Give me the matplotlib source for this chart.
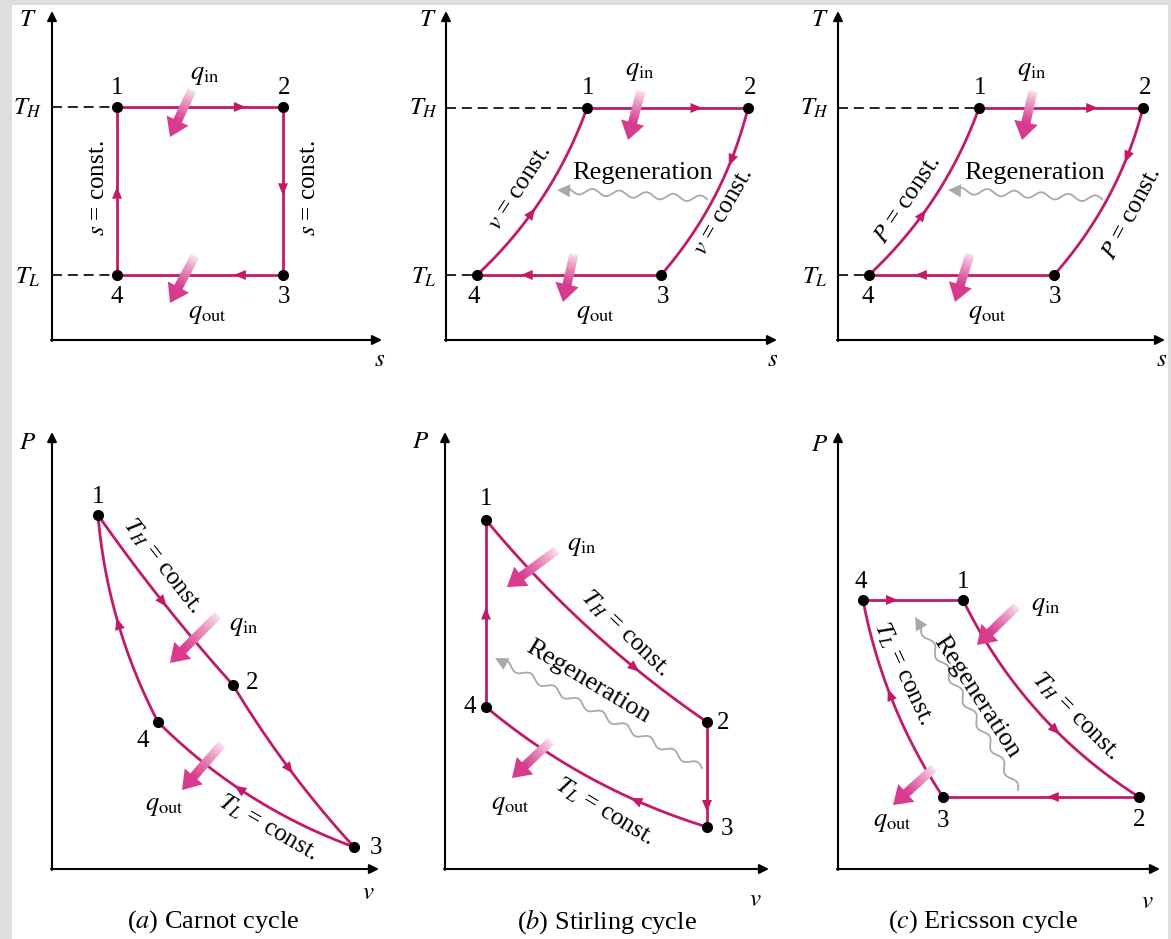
import numpy as np
import matplotlib
matplotlib.use("Agg")
import matplotlib.pyplot as plt
from matplotlib.patches import Polygon, Rectangle

plt.rcParams['font.family'] = ['Liberation Serif', 'DejaVu Serif']
plt.rcParams['mathtext.fontset'] = 'stix'

MAG = '#c21a6a'
HEAT = '#d83a8e'
PALE = '#fbeaf2'
GRAY = '#a9a9a9'

# state points 1,2,3,4 of each cycle (picture coordinates, y down)
carnot_ts = [(117, 107), (283, 107), (283, 275), (117, 275)]
stirling_ts = [(587, 108), (748, 108), (661, 275), (477, 275)]
ericsson_ts = [(979, 108), (1143, 108), (1054, 275), (869, 275)]
carnot_pv = [(98, 515), (233, 685), (354, 847), (158, 722)]
stirling_pv = [(486, 520), (707, 722), (707, 827), (486, 707)]
ericsson_pv = [(963, 600), (1139, 797), (943, 797), (863, 600)]

# curvature of each process 1-2, 2-3, 3-4, 4-1 and where its arrow sits
carnot_ts_bow = [0, 0, 0, 0]
stirling_ts_bow = [0, -0.12, 0, 0.12]
ericsson_ts_bow = [0, -0.12, 0, 0.12]
carnot_pv_bow = [0.03, 0.05, -0.11, -0.10]
stirling_pv_bow = [0.07, 0, -0.10, 0]
ericsson_pv_bow = [0.14, 0, -0.10, 0]

carnot_ts_arr = [0.74, 0.49, 0.26, 0.49]
stirling_ts_arr = [0.68, 0.29, 0.73, 0.41]
ericsson_ts_arr = [0.69, 0.27, 0.72, 0.40]
carnot_pv_arr = [0.5, 0.5, 0.55, 0.49]
stirling_pv_arr = [0.7, 0.8, 0.3, 0.5]
ericsson_pv_arr = [0.6, 0.44, 0.54, 0.29]

fig = plt.figure(figsize=(11.71, 9.39), dpi=100)
ax = fig.add_axes([0, 0, 1, 1])
ax.set_xlim(0, 1171)
ax.set_ylim(939, 0)
ax.axis('off')

# grey frame
for r in [(0, 0, 12, 939), (0, 0, 1171, 5), (1168, 0, 3, 939)]:
    ax.add_patch(Rectangle(r[:2], r[2], r[3], color='#dedede', lw=0, zorder=0))


def bezier(p0, p1, bow, n=80):
    p0 = np.array(p0, float)
    p1 = np.array(p1, float)
    d = p1 - p0
    c = (p0 + p1) / 2 + bow * np.array([-d[1], d[0]])
    t = np.linspace(0, 1, n)[:, None]
    return (1 - t) ** 2 * p0 + 2 * t * (1 - t) * c + t ** 2 * p1


def mid_arrow(path, f, size=12, width=5, color=MAG):
    s = np.concatenate([[0], np.cumsum(np.hypot(*np.diff(path, axis=0).T))])
    tg = f * s[-1]
    x = np.interp(tg, s, path[:, 0])
    y = np.interp(tg, s, path[:, 1])
    xa = np.interp(tg - 3, s, path[:, 0])
    ya = np.interp(tg - 3, s, path[:, 1])
    xb = np.interp(tg + 3, s, path[:, 0])
    yb = np.interp(tg + 3, s, path[:, 1])
    u = np.array([xb - xa, yb - ya])
    u /= np.hypot(*u)
    p = np.array([-u[1], u[0]])
    c = np.array([x, y])
    tip = c + u * size / 2
    base = c - u * size / 2
    ax.add_patch(Polygon([tip, base + p * width, base - p * width],
                         color=color, lw=0, zorder=4))


def cycle(pts, bows, arrs):
    for i in range(4):
        path = bezier(pts[i], pts[(i + 1) % 4], bows[i])
        ax.plot(path[:, 0], path[:, 1], color=MAG, lw=2.0, zorder=3,
                solid_capstyle='round')
        mid_arrow(path, arrs[i])
    ax.plot([p[0] for p in pts], [p[1] for p in pts], 'o', color='k',
            ms=7, zorder=5)


def heat_arrow(tail, head):
    tail = np.array(tail, float)
    head = np.array(head, float)
    d = head - tail
    u = d / np.hypot(*d)
    p = np.array([-u[1], u[0]])
    hl, hw = 18, 12
    base = head - u * hl
    n = 24
    c0 = np.array(matplotlib.colors.to_rgb(PALE))
    c1 = np.array(matplotlib.colors.to_rgb(HEAT))
    for k in range(n):
        a = tail + (base - tail) * k / n
        b = tail + (base - tail) * (k + 1) / n + u * 0.6
        w = ((k + 0.5) / n) ** 0.8
        ax.plot([a[0], b[0]], [a[1], b[1]], color=c0 + (c1 - c0) * w,
                lw=6.5, solid_capstyle='butt', zorder=6)
    ax.add_patch(Polygon([head, base + p * hw, base - p * hw], color=HEAT,
                         lw=0, zorder=6))


def wavy(start, head, amp=3.2, wl=27):
    start = np.array(start, float)
    head = np.array(head, float)
    d = head - start
    L = np.hypot(*d)
    u = d / L
    p = np.array([-u[1], u[0]])
    hl, hw = 13, 6.5
    s = np.linspace(0, L - hl, 300)
    pts = start + s[:, None] * u + (amp * np.sin(2 * np.pi * s / wl))[:, None] * p
    ax.plot(pts[:, 0], pts[:, 1], color=GRAY, lw=1.3, zorder=2)
    base = head - u * hl
    ax.add_patch(Polygon([head, base + p * hw, base - p * hw], color=GRAY,
                         lw=0, zorder=2))


def axes_arrows(x0, y0, ytop, xright):
    kw = dict(arrowstyle='-|>', color='k', lw=1.5, mutation_scale=14,
              shrinkA=0, shrinkB=0)
    ax.annotate('', xy=(x0, ytop), xytext=(x0, y0 + 1), arrowprops=kw)
    ax.annotate('', xy=(xright, y0), xytext=(x0 - 1, y0), arrowprops=kw)


def txt(x, y, s, size=18, rot=0, **kw):
    ax.text(x, y, s, fontsize=size, rotation=rot, ha='center', va='center',
            rotation_mode='anchor', zorder=7, **kw)


def numbers(pos):
    for i, (x, y) in enumerate(pos):
        txt(x, y, str(i + 1))


# ---------------- T-s diagrams ----------------
for (x0, xr, pts) in [(52, 382, carnot_ts), (446, 777, stirling_ts),
                      (838, 1165, ericsson_ts)]:
    axes_arrows(x0, 340, 11, xr)
    ax.plot([x0, pts[0][0]], [pts[0][1], pts[0][1]], 'k--', lw=1.2,
            dashes=(6, 3.5), zorder=1)
    ax.plot([x0, pts[3][0]], [pts[3][1], pts[3][1]], 'k--', lw=1.2,
            dashes=(6, 3.5), zorder=1)

cycle(carnot_ts, carnot_ts_bow, carnot_ts_arr)
cycle(stirling_ts, stirling_ts_bow, stirling_ts_arr)
cycle(ericsson_ts, ericsson_ts_bow, ericsson_ts_arr)

# Carnot T-s
txt(28, 20, '$T$', 18)
txt(28, 108, '$T_H$', 18)
txt(28, 277, '$T_L$', 18)
numbers([(117, 88), (284, 88), (284, 297), (117, 297)])
txt(205, 76, r'$q_{\mathrm{in}}$', 19)
txt(207, 315, r'$q_{\mathrm{out}}$', 19)
txt(98, 188, '$s$ = const.', 18, 90)
txt(309, 188, '$s$ = const.', 18, 90)
txt(380, 360, '$s$', 18)
heat_arrow((192, 90), (170, 137))
heat_arrow((195, 256), (170, 303))

# Stirling T-s
txt(428, 20, '$T$', 18)
txt(424, 108, '$T_H$', 18)
txt(424, 277, '$T_L$', 18)
numbers([(588, 88), (750, 88), (663, 297), (474, 297)])
txt(640, 72, r'$q_{\mathrm{in}}$', 19)
txt(595, 315, r'$q_{\mathrm{out}}$', 19)
txt(520, 188, '$v$ = const.', 18, 57)
txt(723, 212, '$v$ = const.', 18, 60)
txt(643, 173, 'Regeneration', 19)
txt(773, 360, '$s$', 18)
heat_arrow((641, 91), (628, 140))
heat_arrow((574, 254), (563, 302))
wavy((707, 199), (557, 190))

# Ericsson T-s
txt(820, 20, '$T$', 18)
txt(815, 108, '$T_H$', 18)
txt(815, 277, '$T_L$', 18)
numbers([(980, 88), (1145, 88), (1055, 297), (868, 297)])
txt(1032, 72, r'$q_{\mathrm{in}}$', 19)
txt(987, 315, r'$q_{\mathrm{out}}$', 19)
txt(908, 200, '$P$ = const.', 18, 56)
txt(1132, 214, '$P$ = const.', 18, 62)
txt(1035, 173, 'Regeneration', 19)
txt(1162, 360, '$s$', 18)
heat_arrow((1033, 91), (1022, 140))
heat_arrow((970, 254), (955, 302))
wavy((1102, 199), (948, 190))

# ---------------- P-v diagrams ----------------
for (x0, xr) in [(52, 379), (445, 769), (838, 1160)]:
    axes_arrows(x0, 869, 432, xr)

cycle(carnot_pv, carnot_pv_bow, carnot_pv_arr)
cycle(stirling_pv, stirling_pv_bow, stirling_pv_arr)
cycle(ericsson_pv, ericsson_pv_bow, ericsson_pv_arr)

# Carnot P-v
txt(28, 443, '$P$', 18)
txt(98, 497, '1')
txt(252, 683, '2')
txt(376, 848, '3')
txt(143, 741, '4')
txt(162, 566, '$T_H$ = const.', 18, -52)
txt(244, 627, r'$q_{\mathrm{in}}$', 19)
txt(164, 807, r'$q_{\mathrm{out}}$', 19)
txt(268, 828, '$T_L$ = const.', 18, -30)
txt(368, 893, '$v$', 18)
txt(213, 922, '($a$) Carnot cycle', 19)
heat_arrow((218, 615), (170, 663))
heat_arrow((222, 744), (182, 790))

# Stirling P-v
txt(421, 442, '$P$', 18)
txt(486, 499, '1')
txt(723, 723, '2')
txt(727, 829, '3')
txt(470, 707, '4')
txt(582, 547, r'$q_{\mathrm{in}}$', 19)
txt(625, 633, '$T_H$ = const.', 18, -44)
txt(588, 682, 'Regeneration', 19, -31)
txt(510, 806, r'$q_{\mathrm{out}}$', 19)
txt(604, 812, '$T_L$ = const.', 18, -31)
txt(755, 900, '$v$', 18)
txt(607, 922, '($b$) Stirling cycle', 19)
heat_arrow((557, 550), (507, 587))
heat_arrow((551, 741), (512, 778))
wavy((702, 768), (495, 658))

# Ericsson P-v
txt(820, 445, '$P$', 18)
txt(861, 582, '4')
txt(963, 582, '1')
txt(1139, 820, '2')
txt(943, 821, '3')
txt(1046, 607, r'$q_{\mathrm{in}}$', 19)
txt(1075, 716, '$T_H$ = const.', 18, -45)
txt(903, 673, '$T_L$ = const.', 18, -65)
txt(977, 697, 'Regeneration', 19, -57)
txt(892, 823, r'$q_{\mathrm{out}}$', 19)
txt(1147, 902, '$v$', 18)
txt(983, 922, '($c$) Ericsson cycle', 19)
heat_arrow((1017, 606), (977, 645))
heat_arrow((934, 768), (893, 805))
wavy((1018, 790), (915, 617))

fig.savefig('out.png', dpi=100, facecolor='white')
